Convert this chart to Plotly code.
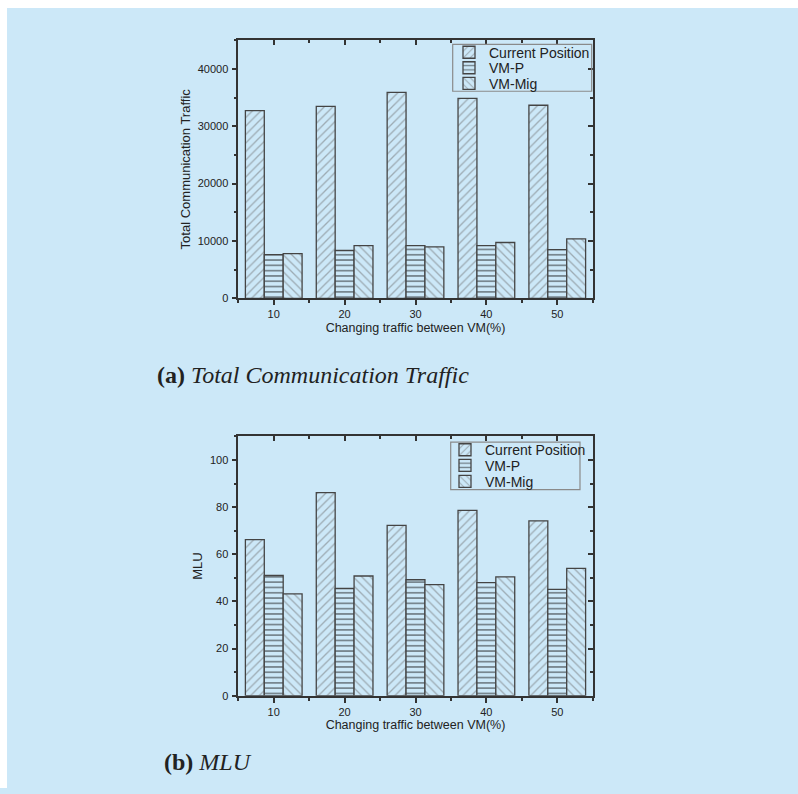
import plotly.graph_objects as go

categories = [10, 20, 30, 40, 50]
series_names = ["Current Position", "VM-P", "VM-Mig"]

traffic_current = [32700, 33450, 35900, 34850, 33650]
traffic_vmp = [7650, 8350, 9200, 9200, 8500]
traffic_vmmig = [7800, 9200, 9000, 9750, 10380]

mlu_current = [66.2, 86.2, 72.3, 78.6, 74.2]
mlu_vmp = [51.0, 45.5, 49.2, 48.0, 45.1]
mlu_vmmig = [43.2, 50.8, 47.1, 50.4, 54.0]

x_ticks = [10, 20, 30, 40, 50]
y1_ticks = [0, 10000, 20000, 30000, 40000]
y2_ticks = [0, 20, 40, 60, 80, 100]

BG = "#cce8f8"
AX = "#333333"
FONT = "Arial, Liberation Sans, sans-serif"
SERIF = "Times New Roman, Liberation Serif, serif"

W, H = 798, 794
VS = 786.0 / 794.0  # vertical compensation for the capture


def fx(px):
    return px / W


def fy(px):
    return 1 - (px / VS) / H


patterns = [
    dict(shape="/", fgcolor="#6e6e6e", bgcolor=BG, size=6, solidity=0.22),
    dict(shape="-", fgcolor="#111111", bgcolor=BG, size=5.3, solidity=0.3),
    dict(shape="\\", fgcolor="#6e6e6e", bgcolor=BG, size=6, solidity=0.22),
]

fig = go.Figure()

top_vals = [traffic_current, traffic_vmp, traffic_vmmig]
bot_vals = [mlu_current, mlu_vmp, mlu_vmmig]
top_legends = ["legend", "legend2", "legend3"]
bot_legends = ["legend4", "legend5", "legend6"]

for name, vals, pat, lg in zip(series_names, top_vals, patterns, top_legends):
    fig.add_trace(go.Bar(
        x=categories, y=vals, name=name, xaxis="x", yaxis="y",
        marker=dict(color=BG, pattern=pat, line=dict(color="#444444", width=1.3)),
        legend=lg,
    ))
for name, vals, pat, lg in zip(series_names, bot_vals, patterns, bot_legends):
    fig.add_trace(go.Bar(
        x=categories, y=vals, name=name, xaxis="x2", yaxis="y2",
        marker=dict(color=BG, pattern=pat, line=dict(color="#444444", width=1.3)),
        legend=lg,
    ))

# dummy traces so mirrored (inward-tick) axes are drawn
fig.add_trace(go.Scatter(x=[None], y=[None], xaxis="x3", yaxis="y3", showlegend=False, hoverinfo="skip"))
fig.add_trace(go.Scatter(x=[None], y=[None], xaxis="x4", yaxis="y4", showlegend=False, hoverinfo="skip"))

xdom = [fx(238.3), fx(592.7)]
ydom1 = [fy(297.7), fy(40)]
ydom2 = [fy(694), fy(435.3)]

tickfont = dict(family=FONT, size=11, color="#222222")
LW = 1.5


def xaxis_main(anchor, domain):
    return dict(
        domain=domain, anchor=anchor, range=[5, 55],
        tickvals=x_ticks, ticks="outside", ticklen=5, tickwidth=LW, tickcolor=AX,
        minor=dict(dtick=5, tick0=5, ticks="outside", ticklen=3, tickwidth=LW, tickcolor=AX),
        showline=True, linecolor=AX, linewidth=LW, showgrid=False, zeroline=False,
        tickfont=tickfont,
        title=dict(text="Changing traffic between VM(%)",
                   font=dict(family=FONT, size=12.5, color="#222222"), standoff=4),
    )


def yaxis_main(anchor, domain, rng, tv, minor_dt, title, standoff):
    return dict(
        domain=domain, anchor=anchor, range=rng,
        tickvals=tv, ticks="outside", ticklen=5, tickwidth=LW, tickcolor=AX,
        minor=dict(dtick=minor_dt, tick0=0, ticks="outside", ticklen=3, tickwidth=LW, tickcolor=AX),
        showline=True, linecolor=AX, linewidth=LW, showgrid=False, zeroline=False,
        tickfont=tickfont, ticklabelstandoff=1, tickformat="d",
        title=dict(text=title, font=dict(family=FONT, size=13, color="#222222"), standoff=standoff),
    )


def xaxis_top(overlay, anchor):
    return dict(
        overlaying=overlay, side="top", anchor=anchor, range=[5, 55],
        tickvals=x_ticks, ticks="inside", ticklen=5, tickwidth=LW, tickcolor=AX,
        minor=dict(dtick=5, tick0=5, ticks="inside", ticklen=3, tickwidth=LW, tickcolor=AX),
        showline=True, linecolor=AX, linewidth=LW, showgrid=False, zeroline=False,
        showticklabels=False,
    )


def yaxis_right(overlay, anchor, rng, tv, minor_dt):
    return dict(
        overlaying=overlay, side="right", anchor=anchor, range=rng,
        tickvals=tv, ticks="inside", ticklen=5, tickwidth=LW, tickcolor=AX,
        minor=dict(dtick=minor_dt, tick0=0, ticks="inside", ticklen=3, tickwidth=LW, tickcolor=AX),
        showline=True, linecolor=AX, linewidth=LW, showgrid=False, zeroline=False,
        showticklabels=False,
    )


def one_legend(xpx, ypx):
    return dict(
        x=fx(xpx), y=fy(ypx), xanchor="left", yanchor="middle",
        bgcolor="rgba(0,0,0,0)", borderwidth=0,
        font=dict(family=FONT, size=14, color="#222222"),
        itemwidth=30, tracegroupgap=0,
    )


legend_layout = {}
for lg, ypx in zip(top_legends, [52.5, 68, 83.5]):
    legend_layout[lg] = one_legend(449, ypx)
for lg, ypx in zip(bot_legends, [449, 464.5, 480.5]):
    legend_layout[lg] = one_legend(445, ypx)

fig.update_layout(
    width=W, height=H,
    margin=dict(l=0, r=0, t=0, b=0),
    paper_bgcolor=BG, plot_bgcolor="rgba(0,0,0,0)",
    barmode="group", bargap=0.2, bargroupgap=0,
    xaxis=xaxis_main("y", xdom),
    yaxis=yaxis_main("x", ydom1, [0, 45000], y1_ticks, 5000, "Total Communication Traffic", 4),
    xaxis2=xaxis_main("y2", xdom),
    yaxis2=yaxis_main("x2", ydom2, [0, 110], y2_ticks, 10, "MLU", 4),
    xaxis3=xaxis_top("x", "y3"),
    yaxis3=yaxis_right("y", "x3", [0, 45000], y1_ticks, 5000),
    xaxis4=xaxis_top("x2", "y4"),
    yaxis4=yaxis_right("y2", "x4", [0, 110], y2_ticks, 10),
    shapes=[
        # white page margins around the light-blue panel
        dict(type="rect", xref="paper", yref="paper", x0=0, x1=1, y0=fy(8), y1=1,
             fillcolor="white", line=dict(width=0), layer="below"),
        dict(type="rect", xref="paper", yref="paper", x0=0, x1=fx(7), y0=0, y1=1,
             fillcolor="white", line=dict(width=0), layer="below"),
        # legend frames
        dict(type="rect", xref="paper", yref="paper", x0=fx(452.7), x1=fx(591.7),
             y0=fy(91), y1=fy(44.3), line=dict(color="#8a8a8a", width=1.2),
             fillcolor="rgba(0,0,0,0)", layer="above"),
        dict(type="rect", xref="paper", yref="paper", x0=fx(450.7), x1=fx(580),
             y0=fy(488.3), y1=fy(441), line=dict(color="#8a8a8a", width=1.2),
             fillcolor="rgba(0,0,0,0)", layer="above"),
    ],
    annotations=[
        dict(text="<b>(a)</b> <i>Total Communication Traffic</i>", xref="paper", yref="paper",
             x=fx(155), y=fy(374), xanchor="left", yanchor="middle", showarrow=False,
             font=dict(family=SERIF, size=24, color="#222222")),
        dict(text="<b>(b)</b> <i>MLU</i>", xref="paper", yref="paper",
             x=fx(162), y=fy(760), xanchor="left", yanchor="middle", showarrow=False,
             font=dict(family=SERIF, size=24, color="#222222")),
    ],
    showlegend=True,
    **legend_layout,
)

post = (
    "document.documentElement.style.background='linear-gradient(to right, #ffffff 7px, " + BG + " 7px)';"
    "document.body.style.margin='0';"
    "document.body.style.padding='0';"
)

fig.write_html("out.html", post_script=post, config={"displayModeBar": False})
